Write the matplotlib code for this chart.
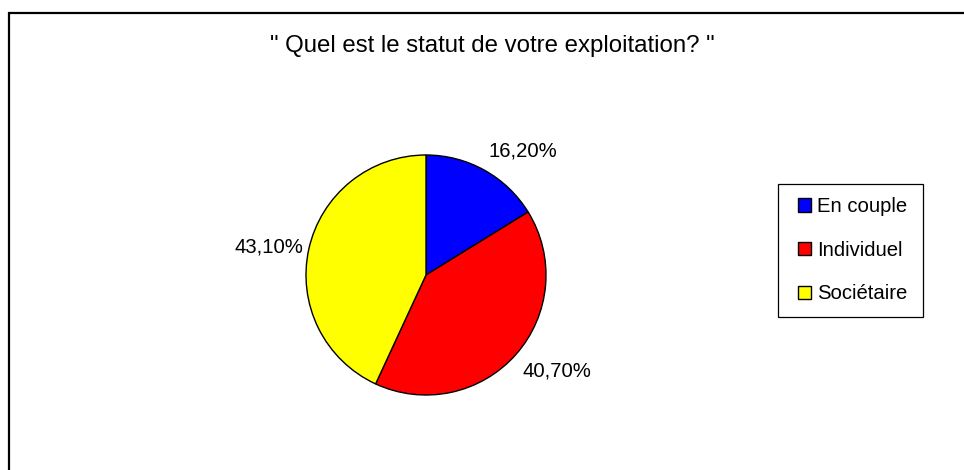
import matplotlib
matplotlib.use("Agg")
import matplotlib.pyplot as plt
from matplotlib.patches import Rectangle

plt.rcParams['font.family'] = ['Liberation Sans', 'DejaVu Sans']

title = '" Quel est le statut de votre exploitation? "'
categories = ["En couple", "Individuel", "Sociétaire"]
values = [16.2, 40.7, 43.1]
colors = ["#0000FF", "#FF0000", "#FFFF00"]

W, H = 964, 470
fig = plt.figure(figsize=(W / 100, H / 100), dpi=100)
fig.patch.set_facecolor("white")

# outer chart border
fig.patches.append(Rectangle((8.5 / W, -0.1), 1.2, 1.1 - 12.5 / H,
                             transform=fig.transFigure, fill=False,
                             edgecolor="black", linewidth=1.6, zorder=0))

fig.text(492 / W, 1 - 46 / H, title, ha="center", va="center", fontsize=17.3)

cx, cy, r = 426, 275, 120
ax = fig.add_axes([(cx - r) / W, (H - cy - r) / H, 2 * r / W, 2 * r / H])
labels = [f"{v:.2f}".replace(".", ",") + "%" for v in values]
wedges, texts = ax.pie(values, colors=colors, startangle=90, counterclock=False,
                       labels=labels, labeldistance=1.07,
                       wedgeprops=dict(edgecolor="black", linewidth=1.0),
                       textprops=dict(fontsize=14.6))
ax.set_xlim(-1, 1)
ax.set_ylim(-1, 1)
ax.set_aspect("equal")
ax.axis("off")
# nudge labels to match the reference placement
x0, y0 = texts[0].get_position()
texts[0].set_position((x0, y0 + 0.1))
x1, y1 = texts[1].get_position()
texts[1].set_position((x1, y1 - 0.09))
x2, y2 = texts[2].get_position()
texts[2].set_position((x2 + 0.02, y2))

# legend frame
fig.patches.append(Rectangle((778 / W, 1 - 317 / H), 145 / W, 133 / H,
                             transform=fig.transFigure, fill=False,
                             edgecolor="black", linewidth=0.9))
leg = fig.legend(wedges, categories, loc="upper left",
                 bbox_to_anchor=(798 / W, 1 - 197 / H),
                 fontsize=14.6, frameon=False,
                 handlelength=0.65, handleheight=0.65, handletextpad=0.3,
                 labelspacing=1.22, borderpad=0, borderaxespad=0)

fig.savefig("out.png", dpi=100, facecolor="white")
